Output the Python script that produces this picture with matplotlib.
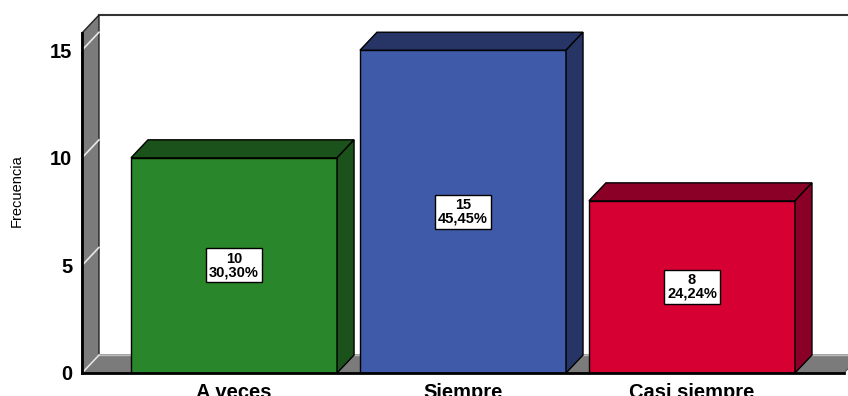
import matplotlib
matplotlib.use('Agg')
import matplotlib.pyplot as plt
from matplotlib.patches import Polygon

categories = ["A veces", "Siempre", "Casi siempre"]
counts = [10, 15, 8]
percents = ["30,30%", "45,45%", "24,24%"]
front_colors = ["#2a862a", "#3f5aa8", "#d60032"]
dark_colors = ["#1b521b", "#263566", "#8a0026"]

plt.rcParams['font.family'] = ['Liberation Sans', 'DejaVu Sans']

fig = plt.figure(figsize=(8.48, 3.96), dpi=100)
ax = fig.add_axes([82 / 848, 23 / 396, 762 / 848, 340 / 396])
ax.set_facecolor('none')

xl, xr = -0.664, 2.664
ymax = 15.8
dx, dy = 0.0742, 0.836   # depth offset of the 3D look
wall = "#7b7b7b"

ax.set_xlim(xl, xr)
ax.set_ylim(0, ymax)

# back wall top edge
ax.plot([xl + dx, xr + dx], [ymax + dy, ymax + dy], color="#333333", lw=1.5,
        clip_on=False, zorder=0.5)

# left wall
ax.add_patch(Polygon([(xl, 0), (xl + dx, dy), (xl + dx, ymax + dy), (xl, ymax)],
                     closed=True, fc=wall, ec="#222222", lw=1, clip_on=False, zorder=1))
# floor
ax.add_patch(Polygon([(xl, 0), (xr, 0), (xr + dx, dy), (xl + dx, dy)],
                     closed=True, fc=wall, ec="#555555", lw=0.8, clip_on=False, zorder=1))
ax.plot([xl + dx, xr + dx], [dy, dy], color="#bbbbbb", lw=1, clip_on=False, zorder=1.1)

# grid marks on the left wall
for v in [0, 5, 10, 15]:
    ax.plot([xl, xl + dx], [v, v + dy], color="#e8e8e8", lw=1.2, clip_on=False, zorder=1.2)

# bars
x = list(range(len(categories)))
w = 0.9
ax.bar(x, counts, width=w, color=front_colors, edgecolor="black", lw=1, zorder=3)
for xi, v, dc in zip(x, counts, dark_colors):
    x0, x1 = xi - w / 2, xi + w / 2
    ax.add_patch(Polygon([(x0, v), (x1, v), (x1 + dx, v + dy), (x0 + dx, v + dy)],
                         closed=True, fc=dc, ec="black", lw=1, clip_on=False, zorder=3))
    ax.add_patch(Polygon([(x1, 0), (x1 + dx, dy), (x1 + dx, v + dy), (x1, v)],
                         closed=True, fc=dc, ec="black", lw=1, clip_on=False, zorder=3))

for xi, v, p in zip(x, counts, percents):
    ax.text(xi, v / 2, f"{v}\n{p}", ha="center", va="center", fontsize=10.5,
            fontweight="bold", linespacing=0.95, zorder=4,
            bbox=dict(boxstyle="square,pad=0.22", fc="white", ec="black", lw=1))

for side in ["top", "right"]:
    ax.spines[side].set_visible(False)
for side in ["left", "bottom"]:
    ax.spines[side].set_linewidth(2)
    ax.spines[side].set_color("black")
    ax.spines[side].set_zorder(5)

ax.set_yticks([0, 5, 10, 15])
ax.set_yticklabels(["0", "5", "10", "15"], fontsize=14.5, fontweight="bold")
ax.set_xticks(x)
ax.set_xticklabels(categories, fontsize=14.5, fontweight="bold")
ax.tick_params(axis="y", length=0, pad=7)
ax.tick_params(axis="x", length=0, pad=7)

ax.set_ylabel("Frecuencia", fontsize=10.5)
ax.yaxis.set_label_coords(-0.077, 0.535)

fig.savefig("out.png", dpi=100)
